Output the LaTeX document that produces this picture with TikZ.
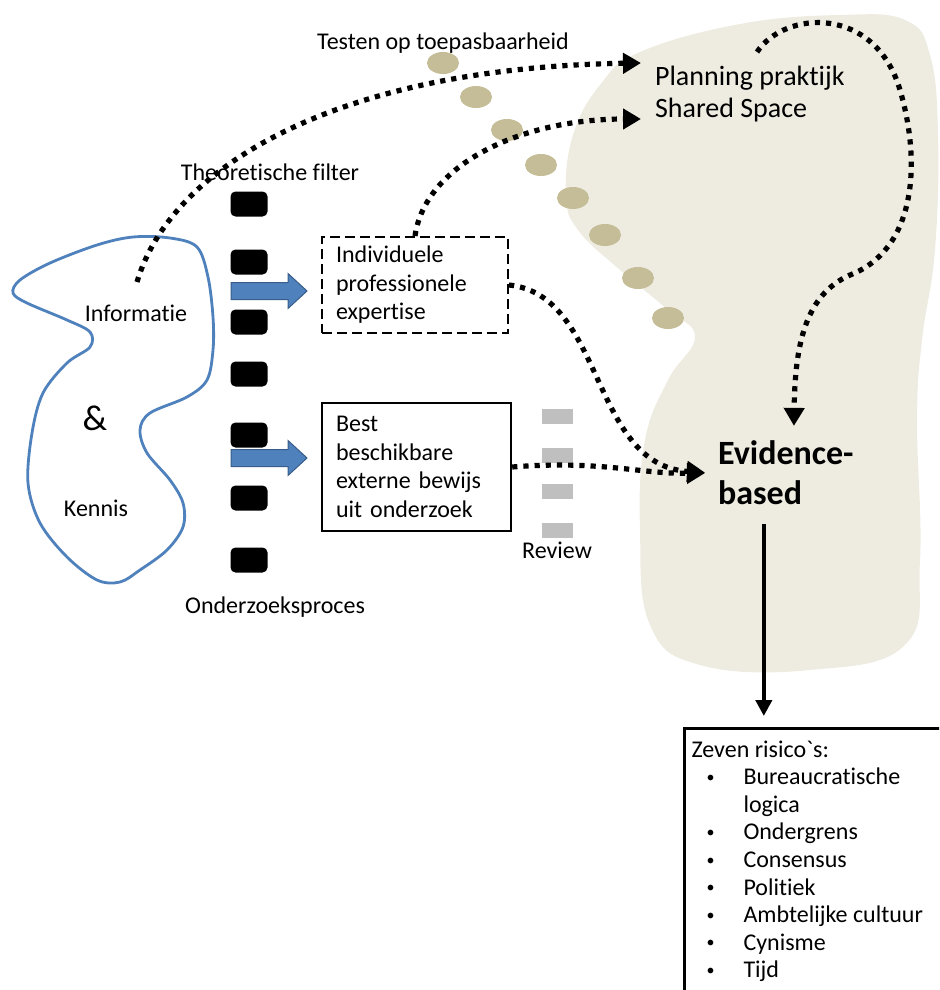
\documentclass[tikz,border=0pt]{standalone}
\usepackage{fontspec}
\setmainfont{Carlito}[Ligatures={NoCommon,NoContextual}]
\usetikzlibrary{arrows.meta}
\definecolor{zandkleur}{HTML}{EEECE1}
\definecolor{kiezel}{HTML}{C4BD97}
\definecolor{lijnblauw}{HTML}{4F81BD}
\definecolor{randblauw}{HTML}{385D8A}
\definecolor{reviewgrijs}{HTML}{BFBFBF}
\newcommand{\risicopunt}{\hspace*{7.5pt}\makebox[18.5pt][l]{\raisebox{1.2pt}{\fontsize{8}{8}\selectfont\textbullet}}}
\newcommand{\inspring}{\hspace*{26pt}}
\tikzset{
  tekst/.style={font=\fontsize{12}{14.25}\selectfont, inner sep=0pt},
  filterblok/.style={fill=black, rounded corners=2.5pt, minimum width=18.5pt, minimum height=12.5pt, inner sep=0pt},
  reviewblok/.style={fill=reviewgrijs, minimum width=15.5pt, minimum height=7.5pt, inner sep=0pt},
  kader/.style={draw, align=left, inner xsep=7pt, font=\fontsize{12}{14.25}\selectfont},
  stippel/.style={line width=2.6pt, dash pattern=on 2.6pt off 3pt, -{Triangle[length=9pt,width=10pt]}},
  blauwepijl/.style={fill=lijnblauw, draw=randblauw, line width=0.5pt},
}
\begin{document}
\begin{tikzpicture}[x=0.5pt,y=-0.5pt]
\useasboundingbox (0,0) rectangle (939,990);
\clip (0,0) rectangle (939,990);

\fill[zandkleur] plot[smooth cycle, tension=0.7] coordinates {(640,52) (740,24) (840,15) (905,20) (930,55) (938,135) (935,250) (922,340) (917,420) (920,560) (905,645) (810,670) (700,665) (650,625) (640,530) (645,440) (668,380) (695,337) (668,310) (620,270) (578,230) (566,195) (573,135) (600,85)};
\foreach \x/\y in {443/63, 476/97, 507/130, 541/165, 573/198, 605/235, 638/278, 668/318}
  \fill[kiezel] (\x,\y) ellipse (16 and 11);

\draw[lijnblauw, line width=1.4pt] plot[smooth cycle, tension=0.55] coordinates {(133,237) (170,238) (197,247) (208,277) (213,317) (213,350) (207,380) (187,397) (150,413) (140,430) (147,453) (170,480) (183,503) (183,527) (167,550) (140,570) (120,582) (97,580) (67,557) (40,523) (28,483) (32,433) (43,393) (67,363) (90,347) (90,332) (67,320) (27,303) (13,293) (20,280) (50,263) (97,245)};

\node[tekst] (info) at (136,313) {Informatie};
\node[tekst, font=\fontsize{18}{20}\selectfont] (en) at (95,418) {\&};
\node[tekst] (kennis) at (96,508) {Kennis};
\node[tekst] (filter) at (270,172) {Theoretische filter};
\node[tekst] (onderzoek) at (275,607) {Onderzoeksproces};
\node[tekst] (testen) at (443,43) {Testen op toepasbaarheid};
\node[tekst] (review) at (557,550) {Review};

\foreach \y in {204,262,322,374,435,498,560}
  \node[filterblok] (f\y) at (249,\y) {};
\foreach \y in {416,455,491,530}
  \node[reviewblok] (r\y) at (557,\y) {};

\foreach \y in {291,458}
  \filldraw[blauwepijl] (231,\y-8.5) -- (288,\y-8.5) -- (288,\y-17.5) -- (307,\y) -- (288,\y+17.5) -- (288,\y+8.5) -- (231,\y+8.5) -- cycle;

\node[kader, dashed, dash pattern=on 5pt off 2.5pt, line width=1pt, text width=79pt, minimum height=48pt] (individueel) at (415,285) {Individuele\\professionele\\expertise};
\node[kader, line width=1.2pt, text width=80.5pt, minimum height=64pt] (best) at (416.5,467) {Best\\beschikbare\\externe bewijs\\uit onderzoek};

\node[align=left, anchor=west, font=\fontsize{14}{16}\selectfont] (planning) at (648,94) {Planning praktijk\\Shared Space};
\node[align=left, anchor=west, font=\bfseries\fontsize{17}{20}\selectfont] (evidence) at (711,473) {Evidence-\\based};

\node[draw, line width=1.5pt, anchor=north west, inner xsep=3.5pt, inner ysep=6pt] (risico) at (683,727) {\parbox[t][150pt][t]{140pt}{\fontsize{12}{13.8}\selectfont
Zeven risico\textasciigrave s:\\
\risicopunt Bureaucratische\\
\inspring logica\\
\risicopunt Ondergrens\\
\risicopunt Consensus\\
\risicopunt Politiek\\
\risicopunt Ambtelijke cultuur\\
\risicopunt Cynisme\\
\risicopunt Tijd}};

\coordinate (infostart) at (137,282);
\coordinate (plan1) at (641,63);
\coordinate (plan2) at (641,119);
\coordinate (lusstart) at (757,52);
\coordinate (lusbocht) at (850,275);

\draw[stippel] (infostart) .. controls (170,170) and (330,68) .. (plan1);
\draw[stippel] (individueel.north) .. controls (425,165) and (520,119) .. (plan2);
\draw[stippel, shorten >=3pt] (individueel.east) .. controls (605,295) and (590,465) .. (evidence.west);
\draw[stippel, shorten >=3pt] (best.east) .. controls (600,460) and (640,474) .. (evidence.west);
\draw[stippel, shorten >=4pt] (lusstart) .. controls (785,10) and (875,5) .. (900,90) .. controls (922,165) and (915,250) .. (lusbocht) .. controls (805,295) and (795,345) .. ([xshift=4pt]evidence.north);

\draw[line width=2.2pt, -{Triangle[length=8pt,width=8pt]}, shorten <=6pt, shorten >=5.5pt] ([xshift=-11pt]evidence.south) -- ([xshift=-11pt]evidence.south |- risico.north);
\end{tikzpicture}
\end{document}
